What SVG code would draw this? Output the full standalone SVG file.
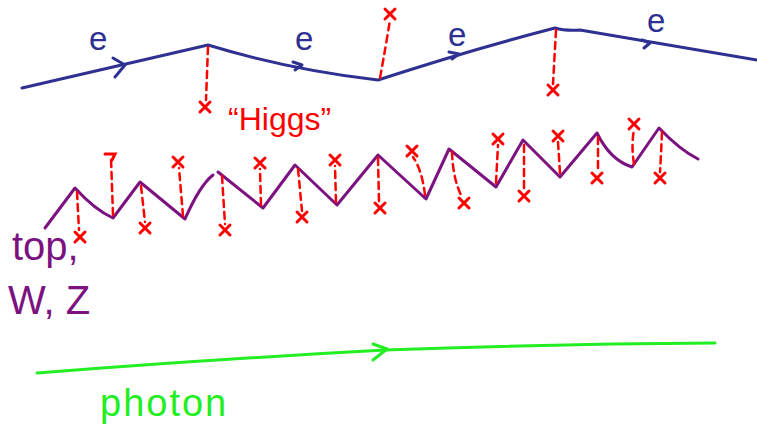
<svg xmlns="http://www.w3.org/2000/svg" width="757" height="445" viewBox="0 0 757 445">
<style>
.blue{fill:none;stroke:#2e3192;stroke-width:3;stroke-linecap:round;stroke-linejoin:round}
.purple{fill:none;stroke:#7b1280;stroke-width:3;stroke-linecap:round;stroke-linejoin:round}
.green{fill:none;stroke:#22ee22;stroke-width:3;stroke-linecap:round;stroke-linejoin:round}
.dash{fill:none;stroke:#ff0000;stroke-width:2.5;stroke-dasharray:7 5;stroke-linecap:round}
.xm{fill:none;stroke:#ff0000;stroke-width:3;stroke-linecap:round}
.lbl{font-family:"Liberation Sans",Arial,sans-serif}
</style>
<defs>
<path id="x" class="xm" d="M-5,-5 L5,5 M5,-5 L-5,5"/>
</defs>
<rect width="757" height="445" fill="#ffffff"/>
<g id="electron">
<path class="blue" d="M22,88 Q110,68 208,45 Q290,70 378,80 Q470,50 555,28 Q565,31 580,30 Q670,45 757,60"/>
<path class="blue" d="M113,58 L125,65 L115,77"/>
<path class="blue" d="M293,62 L302,65 L295,70"/>
<path class="blue" d="M449,52 L459,54 L452,59"/>
<path class="blue" d="M642,40 L650,43 L644,48"/>
<text class="lbl" x="89" y="50" font-size="33" fill="#2e3192">e</text>
<text class="lbl" x="295" y="50" font-size="33" fill="#2e3192">e</text>
<text class="lbl" x="448" y="46" font-size="33" fill="#2e3192">e</text>
<text class="lbl" x="647" y="32" font-size="33" fill="#2e3192">e</text>
</g>
<g id="higgs-electron">
<path class="dash" d="M208,47 L206,100"/>
<use href="#x" x="205" y="107"/>
<path class="dash" d="M380,78 Q386,45 390,20"/>
<use href="#x" x="390" y="14"/>
<path class="dash" d="M556,30 L553,84"/>
<use href="#x" x="553" y="90"/>
<text class="lbl" x="228" y="130" font-size="32" fill="#ff0000">“Higgs”</text>
</g>
<g id="top">
<path class="purple" d="M45,228 L75,188 Q95,210 113,218 L140,182 L185,219 Q200,185 213,175"/>
<path class="purple" d="M218,172 L263,208 L295,165 L337,205 L378,155 L426,199 L449,149 L496,187 L523,140 L560,177 L597,133 Q610,160 632,167 L659,128 Q680,150 698,159"/>
<path class="dash" d="M77,192 L79,230"/><use href="#x" x="80" y="237"/>
<path class="dash" d="M113,215 L111,158"/><path class="xm" d="M105,154 L115,154 L112,160"/>
<path class="dash" d="M141,186 L145,222"/><use href="#x" x="145" y="228"/>
<path class="dash" d="M183,216 L179,168"/><use href="#x" x="178" y="162"/>
<path class="dash" d="M222,176 L225,224"/><use href="#x" x="225" y="230"/>
<path class="dash" d="M261,205 L260,169"/><use href="#x" x="260" y="163"/>
<path class="dash" d="M298,169 L302,211"/><use href="#x" x="302" y="217"/>
<path class="dash" d="M336,202 L335,166"/><use href="#x" x="335" y="160"/>
<path class="dash" d="M378,158 L379,202"/><use href="#x" x="380" y="208"/>
<path class="dash" d="M425,195 Q422,170 413,157"/><use href="#x" x="412" y="151"/>
<path class="dash" d="M452,152 Q453,180 462,197"/><use href="#x" x="464" y="203"/>
<path class="dash" d="M496,183 L498,145"/><use href="#x" x="498" y="139"/>
<path class="dash" d="M524,145 L524,190"/><use href="#x" x="524" y="196"/>
<path class="dash" d="M560,173 L558,142"/><use href="#x" x="558" y="136"/>
<path class="dash" d="M598,137 L598,172"/><use href="#x" x="597" y="178"/>
<path class="dash" d="M634,164 Q631,145 634,130"/><use href="#x" x="634" y="124"/>
<path class="dash" d="M662,132 Q661,155 660,172"/><use href="#x" x="660" y="178"/>
<text class="lbl" x="12" y="260" font-size="40" fill="#7b1280">top,</text>
<text class="lbl" x="8" y="314" font-size="40" fill="#7b1280">W, Z</text>
</g>
<g id="photon">
<path class="green" d="M37,373 Q200,360 385,350 Q550,344 715,343"/>
<path class="green" d="M373,344 L387,349 L373,360"/>
<text class="lbl" x="100" y="416" font-size="38" letter-spacing="2" fill="#22ee22">photon</text>
</g>
</svg>
